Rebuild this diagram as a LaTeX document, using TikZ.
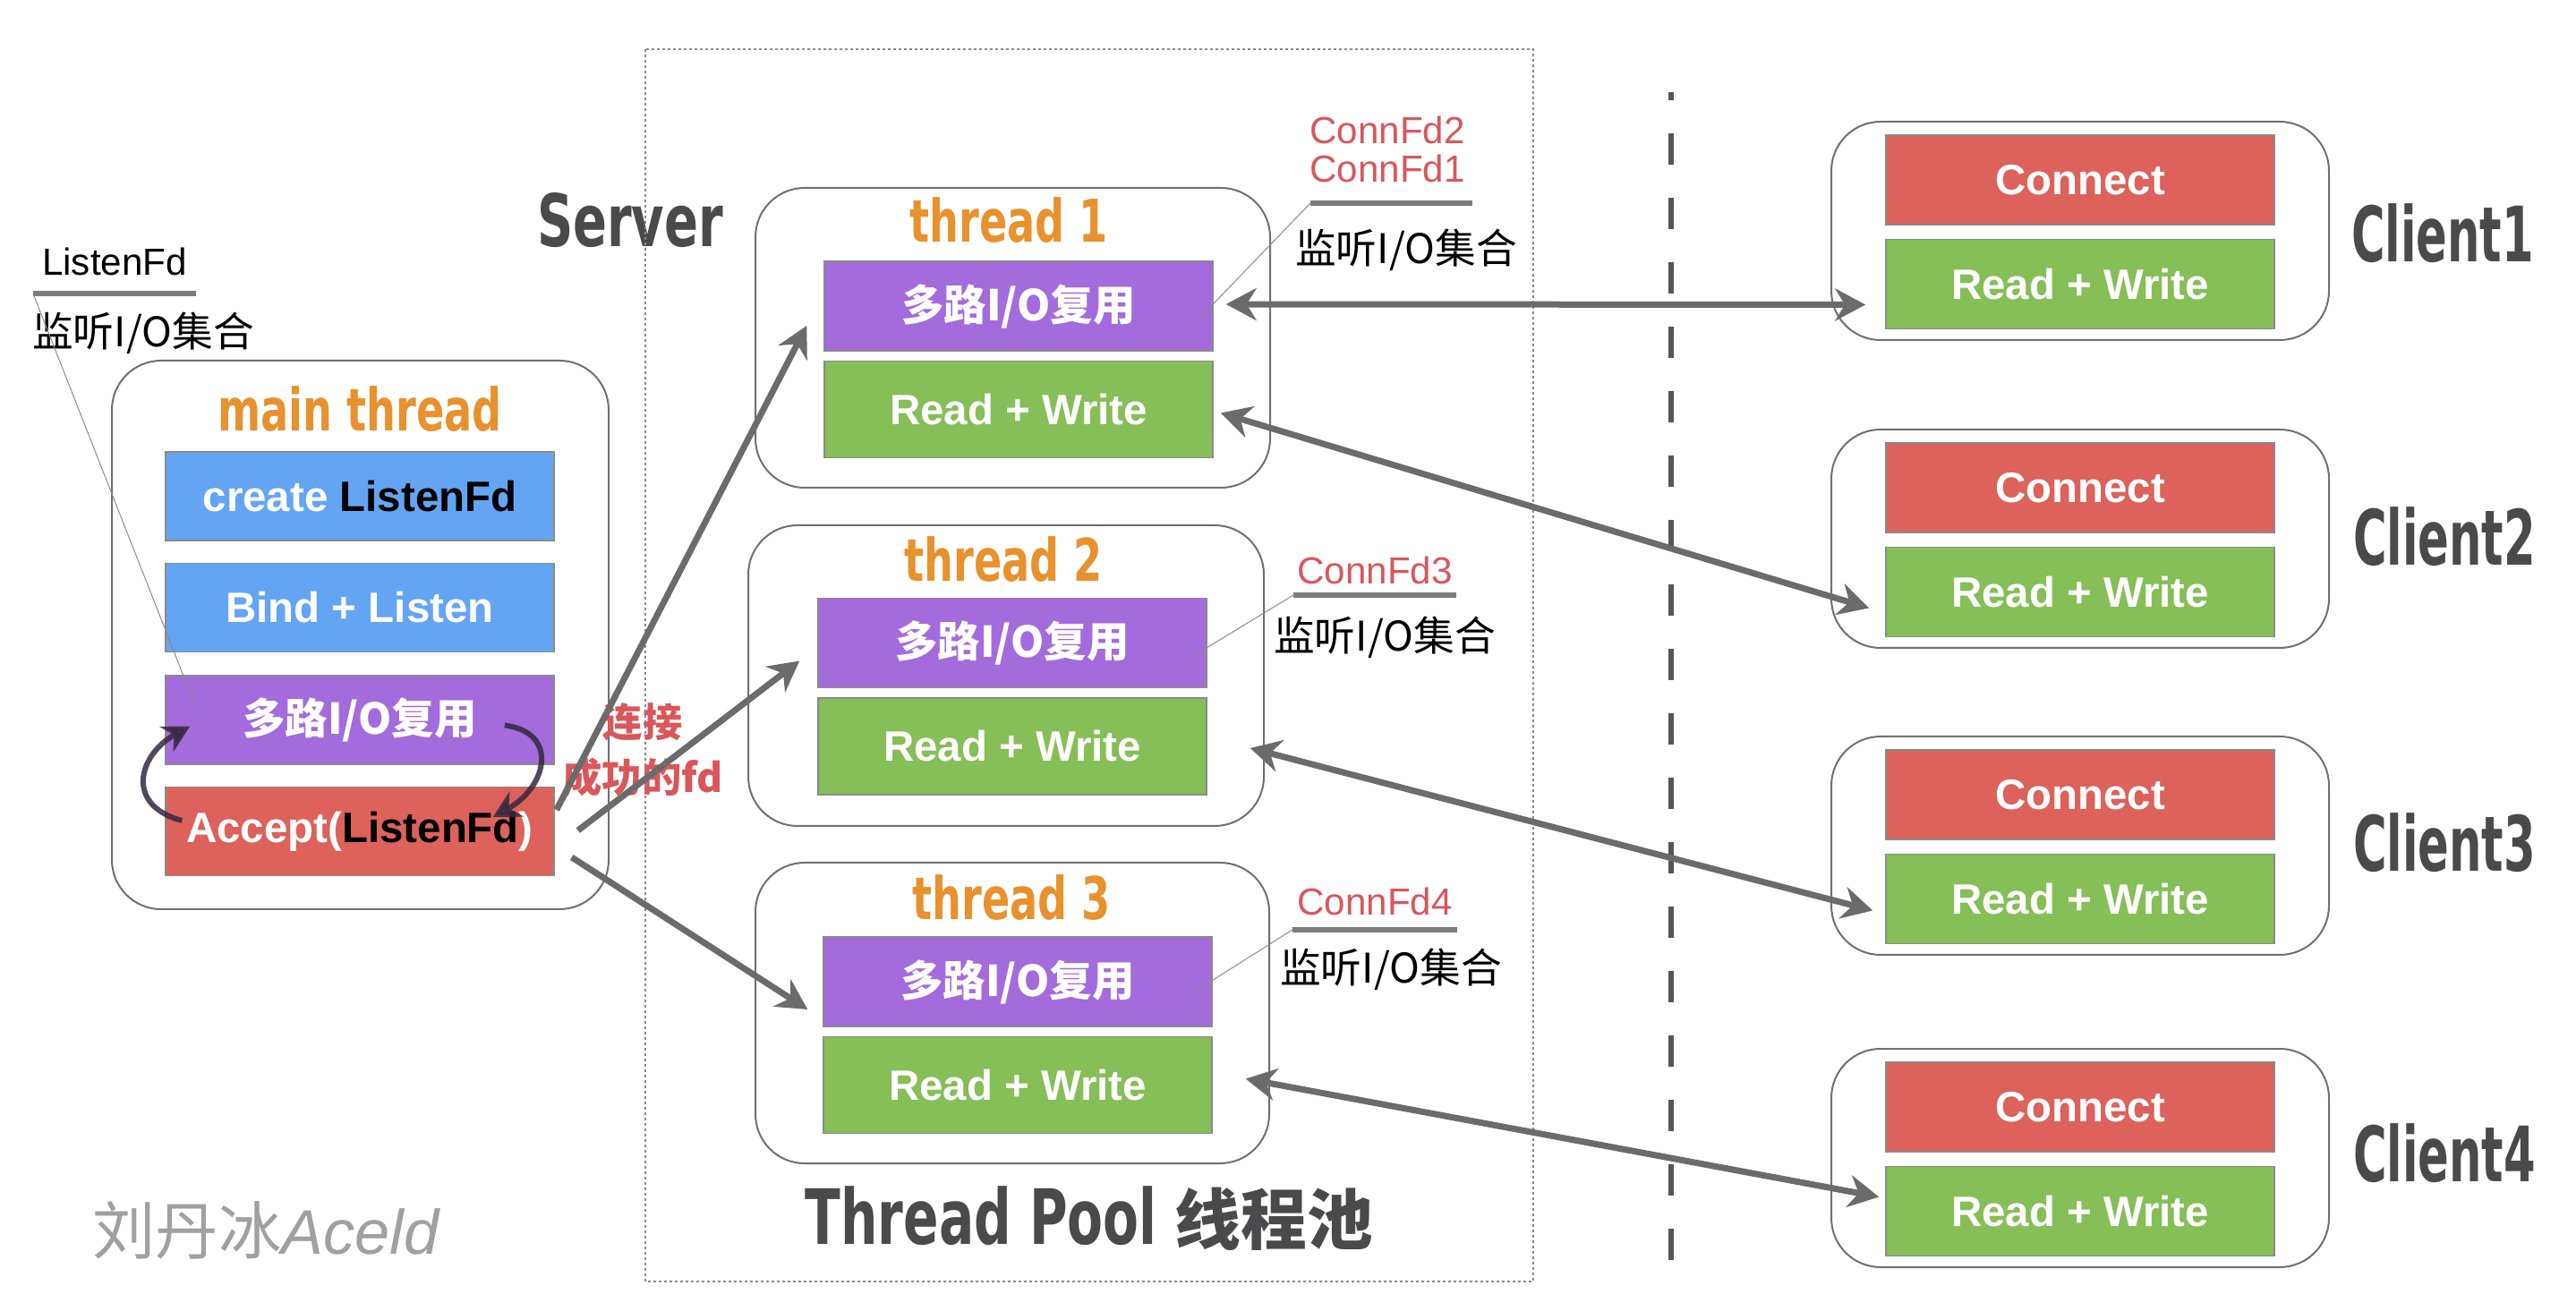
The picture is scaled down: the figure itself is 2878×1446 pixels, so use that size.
\documentclass[tikz,border=0pt]{standalone}
\usepackage{fontspec}
\usepackage{graphicx}
\setmainfont{Liberation Sans}
\newfontfamily\cjk{Noto Sans CJK SC}
\newfontfamily\handfont{DejaVuSansCondensed-Bold.ttf}
\usetikzlibrary{
  arrows.meta,  % Tips "Stealth"
  positioning,  % Function "of" (e.g. [below=of x])
  calc          % Calculations $...$
}
\definecolor{cblue}{HTML}{64A5F3}
\definecolor{cpurple}{HTML}{A46BDC}
\definecolor{cgreen}{HTML}{86BE57}
\definecolor{cred}{HTML}{DC625B}
\definecolor{corange}{HTML}{E8912D}
\definecolor{ctitle}{HTML}{4A4A4D}
\definecolor{cfd}{HTML}{D9575B}
\definecolor{carrow}{HTML}{6B6B6B}
\definecolor{cframe}{HTML}{707070}
\definecolor{cedge}{HTML}{8A8A8A}
\definecolor{cbar}{HTML}{7C7C7C}
\definecolor{cthin}{HTML}{8C8C8C}
\definecolor{cloop}{HTML}{34293F}
\definecolor{cdot}{HTML}{8A8A8A}
\definecolor{cdash}{HTML}{55555A}
\definecolor{cmark}{HTML}{A0A0A0}
\newcommand{\lfd}{\textcolor{black}{ListenFd}}
\newcommand{\hand}[2][1.28]{\scalebox{1}[#1]{\handfont #2}}
\tikzset{
  font=\fontsize{13.5}{16}\selectfont,
  >={Stealth[length=3.4mm,width=3.6mm]},
  group/.style={
    draw=cframe,
    line width=0.2mm,
    rounded corners=5.5mm,
    inner sep=0pt
  },
  block/.style={
    draw=cedge,
    line width=0.15mm,
    minimum width=43.4mm,
    minimum height=9.9mm,
    inner sep=0pt,
    text=white,
    font=\fontsize{13.5}{16}\selectfont\bfseries
  },
  listen/.style={block,fill=cblue},
  mux/.style={block,fill=cpurple,minimum height=10mm,
    font=\cjk\bfseries\fontsize{13.5}{16}\selectfont},
  rw/.style={block,fill=cgreen},
  conn/.style={block,fill=cred},
  title/.style={text=corange,font=\fontsize{14.6}{16}\selectfont},
  side/.style={text=ctitle},
  fd/.style={text=cfd,align=center,font=\fontsize{12}{12}\selectfont},
  watch/.style={font=\cjk\fontsize{13}{15}\selectfont},
  bar/.style={draw=cbar,line width=0.55mm},
  lead/.style={draw=cthin,line width=0.1mm},
  push/.style={draw=carrow,line width=0.7mm,->},
  link/.style={draw=carrow,line width=0.7mm,<->},
  turn/.style={draw=cloop,line width=0.6mm,opacity=0.85,
    -{Stealth[length=3mm,width=3.2mm]}},
  pool/.style={draw=cdot,line width=0.2mm,dash pattern=on 0.3mm off 0.3mm},
  divide/.style={draw=cdash,line width=0.65mm,
    dash pattern=on 3.5mm off 3.7mm,dash phase=2.6mm}
}

\begin{document}
\begin{tikzpicture}[x=0.1mm,y=-0.1mm]
\fill[white] (0,0) rectangle (2878,1446);
\useasboundingbox (0,0) rectangle (2878,1446);

% main thread
\node[group,minimum width=55.5mm,minimum height=61.3mm] (main) at (402.5,709.5) {};
\node[title] (mainT) at (402,457) {\hand{main thread}};
\node[listen] (mk) at (402,554.5) {create \lfd};
\node[listen,below=2.4mm of mk] (bind) {Bind + Listen};
\node[mux,minimum height=9.9mm,below=2.5mm of bind] (mux) {多路I/O复用};
\node[conn,below=2.4mm of mux] (acc) {Accept(\lfd)};

\node[font=\fontsize{12}{14}\selectfont] (lfdT) at (128,292) {ListenFd};
\coordinate (b0L) at (37,328);
\coordinate (b0R) at (219,328);
\draw[bar] (b0L) -- (b0R);
\node[watch] (w0) at (160,372) {监听I/O集合};
\coordinate (p0) at ($(mux.west)+(33,-18)$);
\draw[lead] (b0L) -- (p0);

\draw[turn] ($(acc.west)+(19,-12)$) .. controls +(-64,-17) and +(-58,32) .. ($(mux.west)+(28,7)$);
\draw[turn] ($(mux.east)+(-56,6)$) .. controls +(62,8) and +(60,-33) .. ($(acc.east)+(-69,-16)$);

\node[text=cfd,align=center,font=\cjk\bfseries\fontsize{12.6}{17.9}\selectfont] (ok) at (718,838) {连接\\成功的fd};

% server, thread pool
\node[side,font=\fontsize{17.7}{20}\selectfont] (srv) at (704,246) {\hand[1.3]{Server}};
\coordinate (poolNW) at (721,55);
\coordinate (poolSE) at (1713,1432);
\draw[pool] (poolNW) rectangle (poolSE);
\node[side,font=\fontsize{18.4}{20}\selectfont] (pool) at (1217,1362)
  {\hand[1.32]{Thread Pool}\hspace{2mm}{\cjk\bfseries\fontsize{21}{22}\selectfont 线程池}};

\node[group,minimum width=57.5mm,minimum height=33.5mm] (t1) at (1131.5,377.5) {};
\node[title] (t1T) at (1127,246) {\hand{thread 1}};
\node[mux] (t1mux) at (1138,342) {多路I/O复用};
\node[rw,minimum height=10.8mm,below=1mm of t1mux] (t1rw) {Read + Write};

\node[group,minimum width=57.6mm,minimum height=33.6mm] (t2) at (1124,755) {};
\node[title] (t2T) at (1121,625) {\hand{thread 2}};
\node[mux] (t2mux) at (1131,718.5) {多路I/O复用};
\node[rw,minimum height=10.8mm,below=1mm of t2mux] (t2rw) {Read + Write};

\node[group,minimum width=57.4mm,minimum height=33.6mm] (t3) at (1131,1132) {};
\node[title] (t3T) at (1130,1003) {\hand{thread 3}};
\node[mux] (t3mux) at (1137,1097) {多路I/O复用};
\node[rw,minimum height=10.8mm,below=1mm of t3mux] (t3rw) {Read + Write};

\node[fd] (fd1) at (1550,167) {ConnFd2\\ConnFd1};
\coordinate (b1L) at (1464,227);
\coordinate (b1R) at (1645,227);
\draw[bar] (b1L) -- (b1R);
\node[watch] (w1) at (1571,279) {监听I/O集合};
\coordinate (p1) at ($(t1mux.east)+(-15,13)$);
\draw[lead] (b1L) -- (p1);

\node[fd] (fd2) at (1536,637) {ConnFd3};
\coordinate (b2L) at (1445,665);
\coordinate (b2R) at (1627,665);
\draw[bar] (b2L) -- (b2R);
\node[watch] (w2) at (1547,712) {监听I/O集合};
\coordinate (p2) at ($(t2mux.east)+(-18,16)$);
\draw[lead] (b2L) -- (p2);

\node[fd] (fd3) at (1536,1007) {ConnFd4};
\coordinate (b3L) at (1444,1039);
\coordinate (b3R) at (1628,1039);
\draw[bar] (b3L) -- (b3R);
\node[watch] (w3) at (1554,1083) {监听I/O集合};
\coordinate (p3) at ($(t3mux.east)+(-20,11)$);
\draw[lead] (b3L) -- (p3);

% clients
\coordinate (sepTop) at (1867,103);
\coordinate (sepBot) at (1867,1410);
\draw[divide] (sepTop) -- (sepBot);

\node[group,minimum width=55.6mm,minimum height=24.4mm] (c1) at (2324,258) {};
\node[conn,minimum height=10mm] (c1con) at (2324,201) {Connect};
\node[rw,minimum height=10mm,below=1.5mm of c1con] (c1rw) {Read + Write};
\node[side,font=\fontsize{16.2}{18}\selectfont] (c1T) at (2729,261) {\hand[1.5]{Client1}};

\node[group,minimum width=55.6mm,minimum height=24.4mm] (c2) at (2324,602) {};
\node[conn,minimum height=10mm] (c2con) at (2324,545) {Connect};
\node[rw,minimum height=10mm,below=1.5mm of c2con] (c2rw) {Read + Write};
\node[side,font=\fontsize{16.2}{18}\selectfont] (c2T) at (2731,600) {\hand[1.5]{Client2}};

\node[group,minimum width=55.6mm,minimum height=24.4mm] (c3) at (2324,945) {};
\node[conn,minimum height=10mm] (c3con) at (2324,888) {Connect};
\node[rw,minimum height=10mm,below=1.5mm of c3con] (c3rw) {Read + Write};
\node[side,font=\fontsize{16.2}{18}\selectfont] (c3T) at (2731,942) {\hand[1.5]{Client3}};

\node[group,minimum width=55.6mm,minimum height=24.4mm] (c4) at (2324,1294) {};
\node[conn,minimum height=10mm] (c4con) at (2324,1237) {Connect};
\node[rw,minimum height=10mm,below=1.5mm of c4con] (c4rw) {Read + Write};
\node[side,font=\fontsize{16.2}{18}\selectfont] (c4T) at (2731,1289) {\hand[1.5]{Client4}};

% connections
\draw[push] ($(acc.east)+(2,-24)$) -- ($(t1mux.west)+(-19,22)$);
\draw[push] ($(acc.east)+(26,-1)$) -- ($(t2mux.west)+(-20,20)$);
\draw[push] ($(acc.east)+(19,29)$) -- ($(t3mux.west)+(-17,31)$);
\draw[link] ($(t1mux.east)+(14,-2)$) -- ($(c1rw.west)+(-22,23)$);
\draw[link] ($(t1rw.east)+(8,4)$) -- ($(c2rw.west)+(-18,18)$);
\draw[link] ($(t2rw.east)+(48,2)$) -- ($(c3rw.west)+(-14,13)$);
\draw[link] ($(t3rw.east)+(37,-7)$) -- ($(c4rw.west)+(-7,-16)$);

\node[text=cmark] (mark) at (297,1375)
  {{\cjk\fontsize{20}{22}\selectfont 刘丹冰}{\itshape\fontsize{20}{22}\selectfont Aceld}};
\end{tikzpicture}
\end{document}
